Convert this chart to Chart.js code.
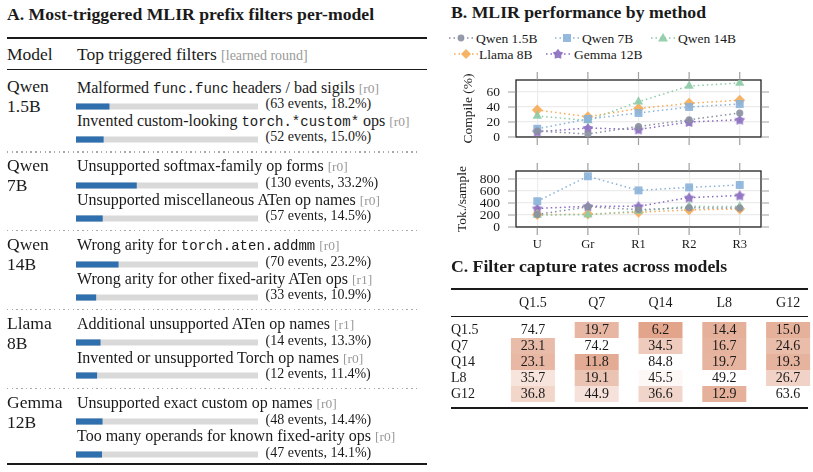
<!DOCTYPE html>
<html><head><meta charset="utf-8">
<script src="https://cdn.jsdelivr.net/npm/chart.js@4.4.1/dist/chart.umd.min.js"></script>
<style>
html,body{margin:0;padding:0;background:#fff;overflow:hidden;}
body{width:813px;height:472px;position:relative;font-family:"Liberation Serif","Times New Roman",serif;color:#1a1a1a;}
.t{position:absolute;white-space:nowrap;}
.mono{font-family:"Liberation Mono","DejaVu Sans Mono",monospace;font-size:14px;}
.tag{color:#9a9a9a;font-size:13.5px;}
.rule{position:absolute;background:#1a1a1a;}
.dots{position:absolute;height:1.4px;background:repeating-linear-gradient(to right,#a8a8a8 0 1.4px,transparent 1.4px 4.7px);}
canvas{position:absolute;}
svg{position:absolute;overflow:visible;}
</style></head><body>
<script>
// ---------------- DATA ----------------
// Panel A
const modelNames = ['Qwen 1.5B', 'Qwen 7B', 'Qwen 14B', 'Llama 8B', 'Gemma 12B'];
const filterLabels = [
  'Malformed `func.func` headers / bad sigils',
  'Invented custom-looking `torch.*custom*` ops',
  'Unsupported softmax-family op forms',
  'Unsupported miscellaneous ATen op names',
  'Wrong arity for `torch.aten.addmm`',
  'Wrong arity for other fixed-arity ATen ops',
  'Additional unsupported ATen op names',
  'Invented or unsupported Torch op names',
  'Unsupported exact custom op names',
  'Too many operands for known fixed-arity ops'
];
const learnedRounds = ['r0', 'r0', 'r0', 'r0', 'r0', 'r1', 'r1', 'r0', 'r0', 'r0'];
const eventCounts = [63, 52, 130, 57, 70, 33, 14, 12, 48, 47];
const eventShares = [18.2, 15.0, 33.2, 14.5, 23.2, 10.9, 13.3, 11.4, 14.4, 14.1];

// Panel B
const methods = ['U', 'Gr', 'R1', 'R2', 'R3'];
const seriesNames = ['Qwen 1.5B', 'Qwen 7B', 'Qwen 14B', 'Llama 8B', 'Gemma 12B'];
const compileQwen15 = [8, 4, 14, 23, 32];
const compileQwen7 = [11, 24, 32, 40, 44];
const compileQwen14 = [28, 22, 47, 68, 72];
const compileLlama8 = [36, 27, 38, 45, 49];
const compileGemma12 = [7, 12, 10, 20, 23];
const tokQwen15 = [210, 335, 290, 320, 315];
const tokQwen7 = [430, 845, 610, 660, 700];
const tokQwen14 = [200, 205, 265, 345, 340];
const tokLlama8 = [205, 215, 245, 285, 300];
const tokGemma12 = [310, 345, 345, 490, 525];

// Panel C
const capModels = ['Q1.5', 'Q7', 'Q14', 'L8', 'G12'];
const capQ15 = [74.7, 19.7, 6.2, 14.4, 15.0];
const capQ7 = [23.1, 74.2, 34.5, 16.7, 24.6];
const capQ14 = [23.1, 11.8, 84.8, 19.7, 19.3];
const capL8 = [35.7, 19.1, 45.5, 49.2, 26.7];
const capG12 = [36.8, 44.9, 36.6, 12.9, 63.6];

// ---------------- HELPERS ----------------
Chart.defaults.font.family = '"Liberation Serif","Times New Roman",serif';
Chart.defaults.color = '#1a1a1a';
const INK = '#1a1a1a';

function addText(html, x, baseline, size, cls, extra) {
  const d = document.createElement('div');
  d.className = 't ' + (cls || '');
  d.style.fontSize = size + 'px';
  d.style.lineHeight = (size * 1.2) + 'px';
  d.style.left = x + 'px';
  d.style.top = (baseline - 0.9375 * size) + 'px';
  if (extra) Object.assign(d.style, extra);
  d.innerHTML = html;
  document.body.appendChild(d);
  return d;
}
function addRule(x, y, w, h) {
  const d = document.createElement('div');
  d.className = 'rule';
  Object.assign(d.style, {left: x + 'px', top: y + 'px', width: w + 'px', height: h + 'px'});
  document.body.appendChild(d);
}
function addDots(x, y, w) {
  const d = document.createElement('div');
  d.className = 'dots';
  Object.assign(d.style, {left: x + 'px', top: y + 'px', width: w + 'px'});
  document.body.appendChild(d);
}
function makeCanvas(x, y, w, h) {
  const c = document.createElement('canvas');
  c.width = w; c.height = h;
  Object.assign(c.style, {left: x + 'px', top: y + 'px', width: w + 'px', height: h + 'px'});
  document.body.appendChild(c);
  return c.getContext('2d');
}
function esc(s) { return s.replace(/&/g, '&amp;').replace(/</g, '&lt;'); }
function fmtLabel(s) {
  return s.split('`').map((p, i) => i % 2 ? '<span class="mono">' + esc(p) + '</span>' : esc(p)).join('');
}
function fixSize(prop, val) {
  return s => {
    s[prop] = val;
    s.paddingTop = 0; s.paddingBottom = 0; s.paddingLeft = 0; s.paddingRight = 0;
  };
}

// ---------------- PANEL A ----------------
addText('<b>A. Most-triggered MLIR prefix filters per-model</b>', 7, 20.7, 17.7);
addRule(7, 37.2, 420, 1.8);
addText('Model', 7, 60, 17.5);
addText('Top triggered filters <span class="tag" style="font-size:14px">[learned round]</span>', 77, 60, 17.5);
addRule(7, 69.2, 420, 1);
addRule(7, 463.2, 420, 1.8);

modelNames.forEach((m, g) => {
  const b = 92.5 + 78.9 * g;
  if (g > 0) addDots(7, b - 20.2, 411);
  const parts = m.split(' ');
  addText(parts[0], 7, b, 17.5);
  addText(parts[1], 7, b + 20, 17.5);
  const idx = [2 * g, 2 * g + 1];
  idx.forEach((k, j) => {
    const lb = b + j * 33.3;
    addText(fmtLabel(filterLabels[k]) + ' <span class="tag">[' + learnedRounds[k] + ']</span>', 77, lb, 16);
    addText('(' + eventCounts[k] + ' events, ' + eventShares[k].toFixed(1) + '%)', 265.5, lb + 16.6, 14);
  });
  const ctx = makeCanvas(76, Math.round(b - 2.8), 182, 66);
  new Chart(ctx, {
    type: 'bar',
    data: {
      labels: idx.map(k => filterLabels[k]),
      datasets: [
        {data: idx.map(k => eventShares[k]), backgroundColor: '#2f6fae', grouped: false, barThickness: 5.5},
        {data: idx.map(() => 100), backgroundColor: '#d9d9d9', grouped: false, barThickness: 5.5}
      ]
    },
    options: {
      indexAxis: 'y', responsive: false, animation: false, devicePixelRatio: 1,
      layout: {padding: 0},
      plugins: {legend: {display: false}, tooltip: {enabled: false}},
      scales: {x: {display: false, min: 0, max: 100}, y: {display: false}}
    }
  });
});

// ---------------- PANEL B ----------------
addText('<b>B. MLIR performance by method</b>', 451, 18.3, 17.7);

const seriesColors = ['#8a90a0', '#8ab2d9', '#8dcba6', '#f5ac58', '#8a6bc0'];
const seriesShapes = ['circle', 'rect', 'triangle', 'rectRot', 'star5'];

function starPts(cx, cy, ro, ri) {
  const pts = [];
  for (let i = 0; i < 10; i++) {
    const r = i % 2 ? ri : ro;
    const a = -Math.PI / 2 + i * Math.PI / 5;
    pts.push([cx + r * Math.cos(a), cy + r * Math.sin(a)]);
  }
  return pts;
}
function starCanvas(color) {
  const c = document.createElement('canvas');
  c.width = 12; c.height = 12;
  const x = c.getContext('2d');
  x.fillStyle = color;
  x.beginPath();
  starPts(6, 6.4, 5.6, 3.4).forEach((p, i) => i ? x.lineTo(p[0], p[1]) : x.moveTo(p[0], p[1]));
  x.closePath(); x.fill();
  return c;
}
function hexA(h, a) {
  const n = parseInt(h.slice(1), 16);
  return `rgba(${n >> 16},${(n >> 8) & 255},${n & 255},${a})`;
}
const pointStyles = seriesShapes.map((s, i) => s === 'star5' ? starCanvas(hexA(seriesColors[i], 0.9)) : s);
const pointRadii = [3.6, 5.6, 5.4, 5.4, 5];

// Legend
const legendItems = [
  {i: 0, mx: 461, tx: 476, by: 43.3},
  {i: 1, mx: 567, tx: 582, by: 43.3},
  {i: 2, mx: 663, tx: 678, by: 43.3},
  {i: 3, mx: 465.5, tx: 479, by: 59.3},
  {i: 4, mx: 558, tx: 574, by: 59.3}
];
const SVGNS = 'http://www.w3.org/2000/svg';
legendItems.forEach(it => {
  const col = seriesColors[it.i];
  const cy = it.by - 5;
  const svg = document.createElementNS(SVGNS, 'svg');
  svg.setAttribute('width', 26); svg.setAttribute('height', 14);
  svg.style.left = (it.mx - 13) + 'px'; svg.style.top = (cy - 7) + 'px';
  let inner = `<line x1="1" y1="7" x2="25" y2="7" stroke="${col}" stroke-width="1.5" stroke-dasharray="1.5 3"/>`;
  const sh = seriesShapes[it.i];
  const fill = hexA(col, 0.9);
  if (sh === 'circle') inner += `<circle cx="13" cy="7" r="3.4" fill="${fill}"/>`;
  else if (sh === 'rect') inner += `<rect x="9" y="3" width="8" height="8" fill="${fill}"/>`;
  else if (sh === 'triangle') inner += `<polygon points="13,2 18,10.5 8,10.5" fill="${fill}"/>`;
  else if (sh === 'rectRot') inner += `<polygon points="13,2 18,7 13,12 8,7" fill="${fill}"/>`;
  else inner += `<polygon points="${starPts(13, 7.3, 5.6, 3.4).map(p => p.join(',')).join(' ')}" fill="${fill}"/>`;
  svg.innerHTML = inner;
  document.body.appendChild(svg);
  addText(seriesNames[it.i], it.tx, it.by, 13.5);
});

const framePlugin = {
  id: 'frame',
  beforeDatasetsDraw(chart) {
    const {ctx, chartArea: a} = chart;
    ctx.save();
    ctx.strokeStyle = '#222'; ctx.lineWidth = 1.3;
    ctx.strokeRect(a.left, a.top, a.right - a.left, a.bottom - a.top);
    ctx.restore();
  },
  afterDraw(chart) {
    const {ctx, chartArea: a, scales: {x, y}} = chart;
    ctx.save();
    ctx.strokeStyle = '#a0a0a0'; ctx.lineWidth = 1.2;
    ctx.beginPath();
    x.ticks.forEach(t => {
      const px = x.getPixelForValue(t.value);
      ctx.moveTo(px, a.top - 8); ctx.lineTo(px, a.top - 0.6);
      ctx.moveTo(px, a.bottom + 0.6); ctx.lineTo(px, a.bottom + 8);
    });
    y.ticks.forEach(t => {
      const py = y.getPixelForValue(t.value);
      ctx.moveTo(a.left - 8, py); ctx.lineTo(a.left - 0.6, py);
      ctx.moveTo(a.right + 0.6, py); ctx.lineTo(a.right + 8, py);
    });
    ctx.stroke();
    ctx.restore();
  }
};

function lineChart(ctx, seriesVals, yMax, yStep, yTitle, titlePad, showX, xHeight, padBottom) {
  return new Chart(ctx, {
    type: 'line',
    data: {
      datasets: seriesVals.map((vals, i) => ({
        label: seriesNames[i],
        data: vals.map((v, j) => ({x: j, y: v})),
        borderColor: seriesColors[i],
        borderWidth: 1.5,
        borderDash: [1.5, 3],
        pointStyle: pointStyles[i],
        pointRadius: pointRadii[i],
        pointBackgroundColor: hexA(seriesColors[i], 0.9),
        pointBorderWidth: 0,
        fill: false,
        tension: 0
      }))
    },
    options: {
      responsive: false, animation: false, devicePixelRatio: 1,
      layout: {padding: {top: 10, right: 52, bottom: padBottom, left: 0}},
      plugins: {legend: {display: false}, tooltip: {enabled: false}},
      scales: {
        x: {
          type: 'linear', min: -0.42, max: 4.42,
          grid: {color: '#ececec', lineWidth: 1.2, drawTicks: false},
          border: {display: false},
          ticks: {display: showX, stepSize: 1, includeBounds: false, autoSkip: false, maxRotation: 0, padding: 10.5,
                  font: {size: 12.5}, color: INK, callback: v => methods[v]},
          afterFit: fixSize('height', xHeight)
        },
        y: {
          min: 0, max: yMax,
          grid: {color: '#ececec', lineWidth: 1.2, drawTicks: false},
          border: {display: false},
          ticks: {stepSize: yStep, includeBounds: false, autoSkip: false, padding: 16, font: {size: 13.5}, color: INK},
          title: {display: true, text: yTitle, font: {size: 13.5}, color: INK, padding: {top: titlePad, bottom: 0}},
          afterFit: fixSize('width', 76)
        }
      }
    },
    plugins: [framePlugin]
  });
}

lineChart(makeCanvas(440, 70, 373, 76),
  [compileQwen15, compileQwen7, compileQwen14, compileLlama8, compileGemma12],
  76, 20, 'Compile (%)', 20, false, 0, 9);
lineChart(makeCanvas(440, 161, 373, 100),
  [tokQwen15, tokQwen7, tokQwen14, tokLlama8, tokGemma12],
  933, 200, 'Tok./sample', 14, true, 34, 0);

// ---------------- PANEL C ----------------
addText('<b>C. Filter capture rates across models</b>', 451, 272.3, 17.7);
addRule(451, 287.8, 357, 1.8);
addRule(451, 315.6, 357, 1);
addRule(451, 406.8, 357, 1.8);

const capRows = [capQ15, capQ7, capQ14, capL8, capG12];
function cellColor(v, diag) {
  if (v === diag) return 'rgba(255,255,255,0)';
  const t = Math.max(0, Math.min(1, 1 - v / diag));
  const base = [223, 157, 130];
  const c = base.map(b => Math.round(255 - (255 - b) * t));
  return `rgb(${c.join(',')})`;
}
const cellTextPlugin = {
  id: 'cellText',
  afterDatasetsDraw(chart) {
    const ctx = chart.ctx;
    ctx.save();
    ctx.font = '14px "Liberation Serif"';
    ctx.fillStyle = INK; ctx.textAlign = 'center'; ctx.textBaseline = 'middle';
    capRows.forEach((row, r) => {
      chart.getDatasetMeta(r).data.forEach((bar, j) => {
        const p = bar.getProps(['x', 'y', 'base'], true);
        ctx.fillText(row[j].toFixed(1), p.x, (p.y + p.base) / 2);
      });
    });
    ctx.restore();
  }
};
new Chart(makeCanvas(451, 292, 369, 110), {
  type: 'bar',
  data: {
    labels: capModels,
    datasets: capRows.map((row, r) => ({
      label: capModels[r],
      data: row.map(() => [r, r + 1]),
      backgroundColor: row.map(v => cellColor(v, row[r])),
      borderWidth: 0, grouped: false,
      barPercentage: 0.69, categoryPercentage: 1
    }))
  },
  options: {
    responsive: false, animation: false, devicePixelRatio: 1,
    layout: {padding: 0},
    plugins: {legend: {display: false}, tooltip: {enabled: false}},
    scales: {
      x: {
        position: 'top', grid: {display: false, drawTicks: false}, border: {display: false},
        ticks: {font: {size: 14}, color: INK, padding: 10, autoSkip: false, maxRotation: 0},
        afterFit: fixSize('height', 30)
      },
      y: {
        type: 'linear', min: 0, max: 5, reverse: true,
        grid: {display: false, drawTicks: false}, border: {display: false},
        afterBuildTicks: axis => { axis.ticks = capModels.map((_, i) => ({value: i + 0.5})); },
        ticks: {font: {size: 14}, color: INK, crossAlign: 'far', padding: 0, autoSkip: false,
                callback: (v, i) => capModels[i]},
        afterFit: fixSize('width', 50)
      }
    }
  },
  plugins: [cellTextPlugin]
});
</script>
</body></html>
